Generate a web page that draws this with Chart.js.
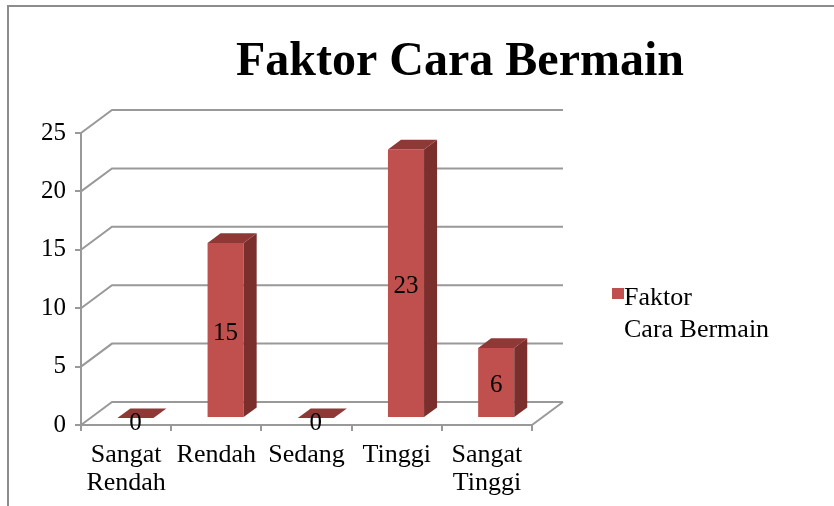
<!DOCTYPE html>
<html>
<head>
<meta charset="utf-8">
<script src="https://cdn.jsdelivr.net/npm/chart.js@4/dist/chart.umd.min.js"></script>
<style>
  html, body { margin: 0; padding: 0; background: #fff; }
  #wrap { width: 834px; height: 506px; }
</style>
</head>
<body>
<div id="wrap"><canvas id="chart" width="834" height="506"></canvas></div>
<script>
// Faktor Cara Bermain - 3D style column chart

const categories = [['Sangat', 'Rendah'], 'Rendah', 'Sedang', 'Tinggi', ['Sangat', 'Tinggi']];
const values = [0, 15, 0, 23, 6];
const seriesName = 'Faktor Cara Bermain';
const legendLines = ['Faktor', 'Cara Bermain'];
const yTicks = [0, 5, 10, 15, 20, 25];

const FRONT = '#C0504D';
const TOP = '#8F3937';
const SIDE = '#7A2F2D';
const GRID = '#999999';
const SERIF = '"Liberation Serif", "Times New Roman", serif';

// depth of the 3D box, and where the bars sit inside it
const DX = 31, DY = -23;
const F1 = 0.30, F2 = 0.72;

const depthPlugin = {
  id: 'depth',
  beforeDraw(chart) {
    const ctx = chart.ctx;
    ctx.save();
    ctx.strokeStyle = '#8c8c8c';
    ctx.lineWidth = 2;
    ctx.beginPath();
    ctx.moveTo(8, 506);
    ctx.lineTo(8, 6);
    ctx.lineTo(834, 6);
    ctx.stroke();
    ctx.restore();
  },
  beforeDatasetsDraw(chart) {
    const ctx = chart.ctx;
    const xs = chart.scales.x, ys = chart.scales.y;
    ctx.save();
    ctx.strokeStyle = GRID;
    ctx.lineWidth = 2;
    ctx.beginPath();
    yTicks.forEach(v => {
      const py = ys.getPixelForValue(v);
      ctx.moveTo(xs.left, py);
      ctx.lineTo(xs.left + DX, py + DY);
      ctx.lineTo(xs.right + DX, py + DY);
    });
    const y0 = ys.getPixelForValue(0);
    ctx.moveTo(xs.right, y0);
    ctx.lineTo(xs.right + DX, y0 + DY);
    ctx.stroke();
    ctx.restore();
  },
  beforeDatasetDraw(chart) {
    chart.ctx.save();
    chart.ctx.translate(DX * F1, DY * F1);
  },
  afterDatasetDraw(chart) {
    chart.ctx.restore();
  },
  afterDatasetsDraw(chart) {
    const ctx = chart.ctx;
    const meta = chart.getDatasetMeta(0);
    const ox = DX * F1, oy = DY * F1;
    const ddx = DX * (F2 - F1), ddy = DY * (F2 - F1);
    ctx.save();
    meta.data.forEach((el, i) => {
      const p = el.getProps(['x', 'y', 'base', 'width'], true);
      const l = p.x - p.width / 2 + ox, r = p.x + p.width / 2 + ox;
      const t = p.y + oy, b = p.base + oy;
      // side face
      ctx.fillStyle = SIDE;
      ctx.beginPath();
      ctx.moveTo(r, t);
      ctx.lineTo(r + ddx, t + ddy);
      ctx.lineTo(r + ddx, b + ddy);
      ctx.lineTo(r, b);
      ctx.closePath();
      ctx.fill();
      // top face
      ctx.fillStyle = TOP;
      ctx.beginPath();
      ctx.moveTo(l, t);
      ctx.lineTo(r, t);
      ctx.lineTo(r + ddx, t + ddy);
      ctx.lineTo(l + ddx, t + ddy);
      ctx.closePath();
      ctx.fill();
    });
    // data labels
    ctx.fillStyle = '#000';
    ctx.font = '25px ' + SERIF;
    ctx.textAlign = 'center';
    ctx.textBaseline = 'middle';
    meta.data.forEach((el, i) => {
      const p = el.getProps(['x', 'y', 'base'], true);
      const t = p.y + oy, b = p.base + oy;
      let cy = (t + b) / 2 + 3;
      if (values[i] === 0) cy = t + 5;
      ctx.fillText(String(values[i]), p.x + ox, cy);
    });
    ctx.restore();
  },
  afterDraw(chart) {
    const ctx = chart.ctx;
    ctx.save();
    // title
    ctx.fillStyle = '#000';
    ctx.font = 'bold 48px ' + SERIF;
    ctx.textAlign = 'center';
    ctx.textBaseline = 'alphabetic';
    ctx.fillText(seriesName, 460, 75);
    // legend
    ctx.fillStyle = FRONT;
    ctx.fillRect(612, 288, 12, 11);
    ctx.fillStyle = '#000';
    ctx.font = '26px ' + SERIF;
    ctx.textAlign = 'left';
    ctx.textBaseline = 'middle';
    ctx.fillText(legendLines[0], 624, 298);
    ctx.fillText(legendLines[1], 624, 330);
    ctx.restore();
  }
};

new Chart(document.getElementById('chart'), {
  type: 'bar',
  data: {
    labels: categories,
    datasets: [{
      label: seriesName,
      data: values,
      backgroundColor: FRONT,
      borderWidth: 0,
      categoryPercentage: 1.0,
      barPercentage: 0.4
    }]
  },
  options: {
    responsive: false,
    animation: false,
    events: [],
    layout: {
      autoPadding: false,
      padding: { left: 0, top: 133, right: 302, bottom: 0 }
    },
    plugins: {
      legend: { display: false },
      title: { display: false },
      tooltip: { enabled: false }
    },
    scales: {
      x: {
        afterFit: s => { s.height = 81; },
        grid: { drawOnChartArea: false, drawTicks: true, tickLength: 6, color: GRID, lineWidth: 2 },
        border: { display: true, color: GRID, width: 2 },
        ticks: {
          color: '#000',
          padding: 11,
          maxRotation: 0,
          autoSkip: false,
          font: { family: SERIF, size: 26, lineHeight: 1.05 }
        }
      },
      y: {
        min: 0,
        max: 25,
        afterFit: s => { s.width = 81; },
        grid: { drawOnChartArea: false, drawTicks: true, tickLength: 6, color: GRID, lineWidth: 2 },
        border: { display: true, color: GRID, width: 2 },
        ticks: {
          stepSize: 5,
          color: '#000',
          padding: 9,
          font: { family: SERIF, size: 25 }
        }
      }
    }
  },
  plugins: [depthPlugin]
});
</script>
</body>
</html>
